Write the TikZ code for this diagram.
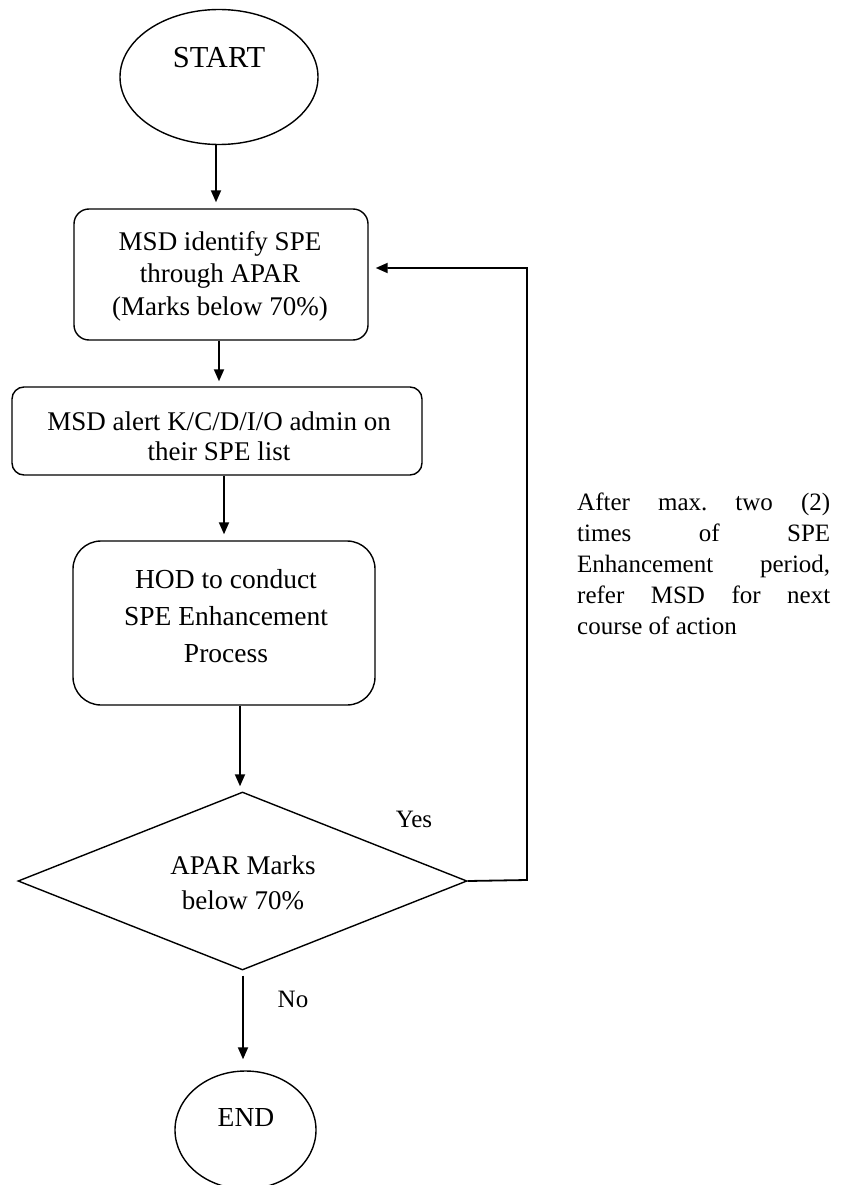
\documentclass[tikz,border=0pt]{standalone}
\usepackage{fontspec}
\setmainfont{Liberation Serif}
\usetikzlibrary{shapes.geometric,arrows.meta}
\frenchspacing
\tikzset{
  shapeline/.style={draw=black,line width=1.4pt,inner sep=0pt,fill=white},
  procbox/.style={shapeline,rectangle},
  termnode/.style={shapeline,ellipse},
  decnode/.style={shapeline,diamond},
  lbl/.style={inner sep=0pt,align=center,text=black},
  arr/.style={draw=black,line width=1.8pt,-{Triangle[length=12pt,width=10pt]}},
}
\newcommand{\jline}[1]{\makebox[253pt][s]{#1}}
\begin{document}
\begin{tikzpicture}[x=1pt,y=-1pt]
\useasboundingbox[fill=white] (0,0) rectangle (842,1185);
\clip (0,0) rectangle (842,1185);
% shapes
\node[termnode,minimum width=198pt,minimum height=135pt] (start) at (219,77) {};
\node[procbox,rounded corners=15pt,minimum width=294pt,minimum height=131pt] (box1) at (221,274.5) {};
\node[procbox,rounded corners=12pt,minimum width=410pt,minimum height=88pt] (box2) at (217,431) {};
\node[procbox,rounded corners=28pt,minimum width=302pt,minimum height=164pt] (box3) at (224,623) {};
\node[decnode,minimum width=449pt,minimum height=178pt] (dec) at (242.5,881) {};
\node[termnode,minimum width=141pt,minimum height=118pt] (end) at (245.5,1130) {};
% texts
\node[lbl,font=\fontsize{30.5}{34}\selectfont] (tstart) at (219,58) {START};
\node[lbl,font=\fontsize{27}{32.5}\selectfont] (t1) at (220,276) {MSD identify SPE\\through APAR\\(Marks below 70\%)};
\node[lbl,font=\fontsize{27}{30}\selectfont] (t2) at (219,436) {MSD alert K/C/D/I/O admin on\\their SPE list};
\node[lbl,font=\fontsize{27.5}{37}\selectfont] (t3) at (226,616) {HOD to conduct\\SPE Enhancement\\Process};
\node[lbl,font=\fontsize{27}{35}\selectfont] (t4) at (243,883) {APAR Marks\\below 70\%};
\node[lbl,font=\fontsize{27.5}{32}\selectfont] (tend) at (246,1118) {END};
\node[lbl,font=\fontsize{25}{30}\selectfont] (yes) at (414,819) {Yes};
\node[lbl,font=\fontsize{25}{30}\selectfont] (no) at (293,999) {No};
\node[inner sep=0pt,anchor=base west,font=\fontsize{25}{31}\selectfont] (note) at (577,510)
  {\parbox[t]{253pt}{\jline{After max. two (2)}\\
   \jline{times of SPE}\\
   \jline{Enhancement period,}\\
   \jline{refer MSD for next}\\
   course of action}};
% connectors
\coordinate (loopA) at (527,880);
\coordinate (loopB) at (527,268);
\draw[arr,shorten >=6pt] ([xshift=-3pt]start.south) -- ([xshift=-5pt]box1.north);
\draw[arr,shorten >=5pt] ([xshift=-2pt]box1.south) -- ([xshift=2pt]box2.north);
\draw[arr,shorten >=6pt] ([xshift=7pt]box2.south) -- (box3.north);
\draw[arr,shorten >=5pt] ([xshift=16pt]box3.south) -- ([xshift=-2.5pt]dec.north);
\draw[arr,shorten <=5pt,shorten >=11pt] ([xshift=0.5pt]dec.south) -- ([xshift=-2.5pt]end.north);
\draw[arr,shorten >=7pt] (dec.east) -- (loopA) -- (loopB) -- (box1.east |- loopB);
\end{tikzpicture}
\end{document}
